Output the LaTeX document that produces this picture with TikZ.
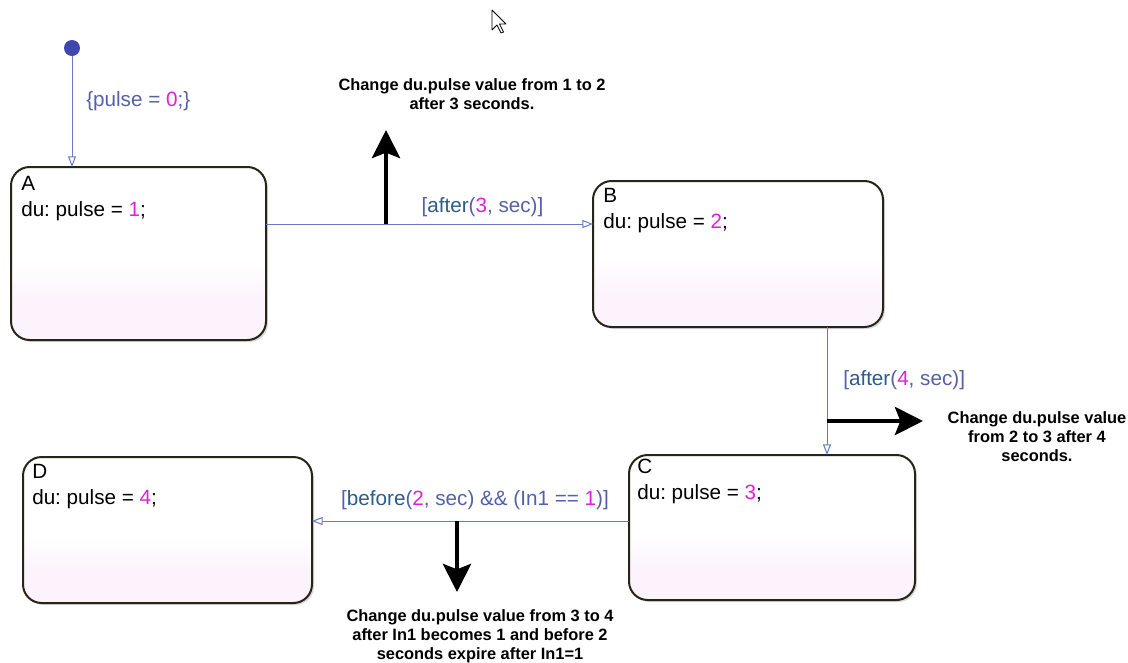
\documentclass[tikz,border=0pt]{standalone}
\usepackage{fontspec}
\setmainfont{Liberation Sans}
\usetikzlibrary{arrows.meta}
\usetikzlibrary{shadows}
\frenchspacing

\definecolor{statecol}{HTML}{262618}
\definecolor{statepink}{HTML}{FCF3FC}
\definecolor{transcol}{HTML}{6A78C8}
\definecolor{slatecol}{HTML}{5560A8}
\definecolor{keycol}{HTML}{2B5C8A}
\definecolor{digcol}{HTML}{E020D8}
\definecolor{initcol}{HTML}{4048B0}

\pgfdeclareverticalshading{statefill}{100bp}{color(0bp)=(statepink); color(36bp)=(statepink); color(48bp)=(white); color(100bp)=(white)}

\newcommand{\dig}[1]{\textcolor{digcol}{#1}}
\newcommand{\kw}[1]{\textcolor{keycol}{#1}}

\begin{document}
\begin{tikzpicture}[
            x=0.75pt, y=-0.75pt,
            state/.style={draw=statecol, line width=1.5pt, rounded corners=14pt, outer sep=0pt,
                shading=statefill, drop shadow={shadow xshift=1.5pt, shadow yshift=-1.5pt, opacity=.3}},
            stxt/.style={anchor=north west, inner sep=0pt, align=left, font=\fontsize{15.5}{19.5}\selectfont},
            trans/.style={draw=transcol, line width=.75pt, -{Triangle[open, length=8pt, width=6pt, fill=white]}},
            guard/.style={text=slatecol, inner sep=0pt, font=\fontsize{15.5}{19.5}\selectfont},
            cue/.style={line width=3.6pt, -{Stealth[length=21pt, width=21pt, inset=4pt]}},
            note/.style={align=center, inner sep=0pt, font=\fontsize{12.3}{14.25}\selectfont\bfseries},
        ]
            \useasboundingbox (0,0) rectangle (1128,662);

            % mouse pointer
            \draw[fill=white, draw=black, line width=.6pt, line join=round] (492,10) -- ++(0,20) -- ++(5,-5)
                -- ++(4,8) -- ++(2.5,-1) -- ++(-4,-8) -- ++(6.5,0) -- cycle;

            % states
            \node[state, minimum width=191.25pt, minimum height=129.75pt] (A) at (138.5,253.5) {};
            \node[state, minimum width=217.5pt, minimum height=109.5pt] (B) at (738,254) {};
            \node[state, minimum width=214.5pt, minimum height=108.75pt] (C) at (772,527.5) {};
            \node[state, minimum width=216.75pt, minimum height=109.5pt] (D) at (167.5,530) {};

            \node[stxt] (Atxt) at ([xshift=7.5pt, yshift=-6.9pt]A.north west) {A\\du: pulse = \dig{1};};
            \node[stxt] (Btxt) at ([xshift=7.5pt, yshift=-5.4pt]B.north west) {B\\du: pulse = \dig{2};};
            \node[stxt] (Ctxt) at ([xshift=6pt, yshift=-3.2pt]C.north west) {C\\du: pulse = \dig{3};};
            \node[stxt] (Dtxt) at ([xshift=6.75pt, yshift=-5.4pt]D.north west) {D\\du: pulse = \dig{4};};

            % default transition
            \node[circle, fill=initcol, inner sep=0pt, minimum size=12pt] (init) at (72,48) {};
            \draw[trans] (init) -- (init |- A.north);
            \node[guard, anchor=west] (g0) at (86,101) {\{pulse = \dig{0};\}};

            % transitions between states
            \coordinate (ab) at (0,224);
            \coordinate (bc) at (827,0);
            \coordinate (cd) at (0,521);
            \draw[trans] (A.east |- ab) -- (B.west |- ab);
            \draw[trans] (B.south -| bc) -- (C.north -| bc);
            \draw[trans] (C.west |- cd) -- (D.east |- cd);
            \node[guard] (g1) at (482.5,207) {[\kw{after}(\dig{3}, sec)]};
            \node[guard, anchor=west] (g2) at (843,380) {[\kw{after}(\dig{4}, sec)]};
            \node[guard] (g3) at (475,500) {[\kw{before}(\dig{2}, sec) \&\& (In1 == \dig{1})]};

            % callouts
            \coordinate (cue1s) at (386,224);
            \coordinate (cue1e) at (386,130);
            \coordinate (cue2s) at (827,421);
            \coordinate (cue2e) at (923,421);
            \coordinate (cue3s) at (457,521);
            \coordinate (cue3e) at (457,592);
            \draw[cue] (cue1s) -- (cue1e);
            \draw[cue] (cue2s) -- (cue2e);
            \draw[cue] (cue3s) -- (cue3e);
            \node[note] (note1) at (472,94) {Change du.pulse value from 1 to 2\\after 3 seconds.};
            \node[note] (note2) at (1037,436.5) {Change du.pulse value\\from 2 to 3 after 4\\seconds.};
            \node[note] (note3) at (480,636.5) {Change du.pulse value from 3 to 4\\after In1 becomes 1 and before 2\\seconds expire after In1=1};
        \end{tikzpicture}
\end{document}
